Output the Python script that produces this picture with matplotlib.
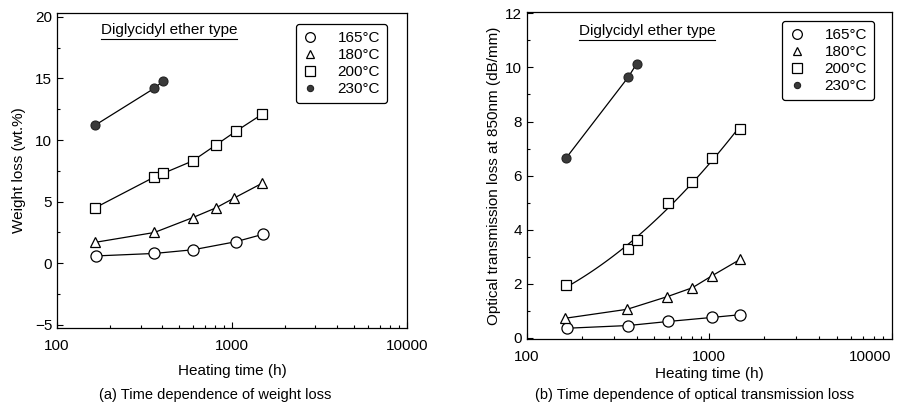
import matplotlib
matplotlib.use("Agg")
import matplotlib.pyplot as plt
import numpy as np
from matplotlib.lines import Line2D
from matplotlib.ticker import MultipleLocator, FixedLocator, NullFormatter

plt.rcParams["font.family"] = ["Liberation Sans", "DejaVu Sans"]
plt.rcParams["font.size"] = 10

TEMPS = ["165°C", "180°C", "200°C", "230°C"]

# (a) weight loss (wt.%)
wl_t165 = [168, 360, 600, 1050, 1500]
wl_v165 = [0.6, 0.8, 1.1, 1.75, 2.35]
wl_t180 = [165, 360, 595, 810, 1030, 1490]
wl_v180 = [1.7, 2.5, 3.7, 4.5, 5.3, 6.5]
wl_t200 = [165, 360, 405, 595, 810, 1050, 1490]
wl_v200 = [4.5, 7.0, 7.3, 8.3, 9.6, 10.7, 12.1]
wl_t230 = [165, 360, 405]
wl_v230 = [11.2, 14.2, 14.8]

# (b) optical transmission loss at 850nm (dB/mm)
ol_t165 = [167, 360, 597, 1040, 1480]
ol_v165 = [0.35, 0.45, 0.6, 0.75, 0.85]
ol_t180 = [163, 355, 590, 810, 1030, 1480]
ol_v180 = [0.72, 1.05, 1.52, 1.85, 2.28, 2.9]
ol_t200 = [165, 360, 400, 597, 810, 1040, 1480]
ol_v200 = [1.94, 3.29, 3.62, 4.98, 5.77, 6.66, 7.73]
ol_t230 = [165, 360, 400]
ol_v230 = [6.66, 9.64, 10.13]

MARKERS = [
    dict(marker="o", ms=8, mfc="white", mec="black", mew=0.9),
    dict(marker="^", ms=7, mfc="white", mec="black", mew=0.9),
    dict(marker="s", ms=7.5, mfc="white", mec="black", mew=0.9),
    dict(marker="o", ms=6.5, mfc="#3a3a3a", mec="#222222", mew=0.8),
]
LEGEND_MS = [7, 5.5, 6.5, 4.5]


def style_axis(ax, ylim, major, minor):
    ax.set_xscale("log")
    ax.set_xlim(100, 10000)
    ax.set_ylim(*ylim)
    ax.yaxis.set_major_locator(MultipleLocator(major))
    ax.yaxis.set_minor_locator(MultipleLocator(minor))
    ax.xaxis.set_major_locator(FixedLocator([100, 1000, 10000]))
    ax.xaxis.set_major_formatter(plt.FuncFormatter(lambda v, p: f"{int(v)}"))
    ax.xaxis.set_minor_formatter(NullFormatter())
    ax.tick_params(which="both", direction="in", length=4, width=0.8, labelsize=11)
    ax.tick_params(which="minor", length=2.5)
    ax.tick_params(axis="x", pad=8)
    for sp in ax.spines.values():
        sp.set_linewidth(0.9)


def add_legend(ax, anchor):
    handles = [
        Line2D([], [], linestyle="none", **{**m, "ms": s})
        for m, s in zip(MARKERS, LEGEND_MS)
    ]
    leg = ax.legend(handles, TEMPS, loc="upper right", bbox_to_anchor=anchor,
                    fancybox=True, framealpha=1, edgecolor="black",
                    fontsize=11, handlelength=1.0, handletextpad=1.3,
                    labelspacing=0.2, borderpad=0.45, borderaxespad=0)
    leg.get_frame().set_linewidth(0.9)


def underlined_title(fig, ax, x, y):
    t = ax.text(x, y, "Diglycidyl ether type", transform=ax.transAxes,
                ha="center", va="center", fontsize=11)
    fig.canvas.draw()
    bb = t.get_window_extent().transformed(ax.transAxes.inverted())
    ax.plot([bb.x0, bb.x1], [bb.y0 - 0.004, bb.y0 - 0.004], color="black",
            lw=0.8, transform=ax.transAxes, clip_on=False)


fig = plt.figure(figsize=(9.04, 4.07), dpi=100)
ax1 = fig.add_axes([0.0631, 0.194, 0.3871, 0.774])
ax2 = fig.add_axes([0.5826, 0.167, 0.4038, 0.804])

# panel (a)
for t, v, m in zip([wl_t165, wl_t180, wl_t200, wl_t230],
                   [wl_v165, wl_v180, wl_v200, wl_v230], MARKERS):
    ax1.plot(t, v, color="black", lw=0.9, **m)
style_axis(ax1, (-5.25, 20.3), 5, 2.5)
ax1.set_xlabel("Heating time (h)", fontsize=11, labelpad=8)
ax1.set_ylabel("Weight loss (wt.%)", fontsize=11, labelpad=6)
add_legend(ax1, (0.943, 0.965))
underlined_title(fig, ax1, 0.32, 0.945)

# panel (b)
series_b = [(ol_t165, ol_v165), (ol_t180, ol_v180), (ol_t200, ol_v200), (ol_t230, ol_v230)]
for i, ((t, v), m) in enumerate(zip(series_b, MARKERS)):
    if i == 2:
        # smooth fitted trend line through the 200°C points
        lt = np.log10(t)
        c = np.polyfit(lt, v, 2)
        xs = np.linspace(lt[0], lt[-1], 100)
        ax2.plot(10 ** xs, np.polyval(c, xs), color="black", lw=0.9)
        ax2.plot(t, v, linestyle="none", **m)
    else:
        ax2.plot(t, v, color="black", lw=0.9, **m)
style_axis(ax2, (-0.05, 12.06), 2, 1)
ax2.set_xlabel("Heating time (h)", fontsize=11, labelpad=2)
ax2.set_ylabel("Optical transmission loss at 850nm (dB/mm)", fontsize=11, labelpad=3)
add_legend(ax2, (0.951, 0.9716))
underlined_title(fig, ax2, 0.33, 0.94)
# keep the last tick label inside the canvas
for lab in ax2.get_xticklabels():
    if lab.get_text() == "10000":
        lab.set_ha("right")

fig.text(0.238, 0.02, "(a) Time dependence of weight loss", ha="center", fontsize=10.5)
fig.text(0.768, 0.02, "(b) Time dependence of optical transmission loss", ha="center", fontsize=10.5)

fig.savefig("out.png", dpi=100)
